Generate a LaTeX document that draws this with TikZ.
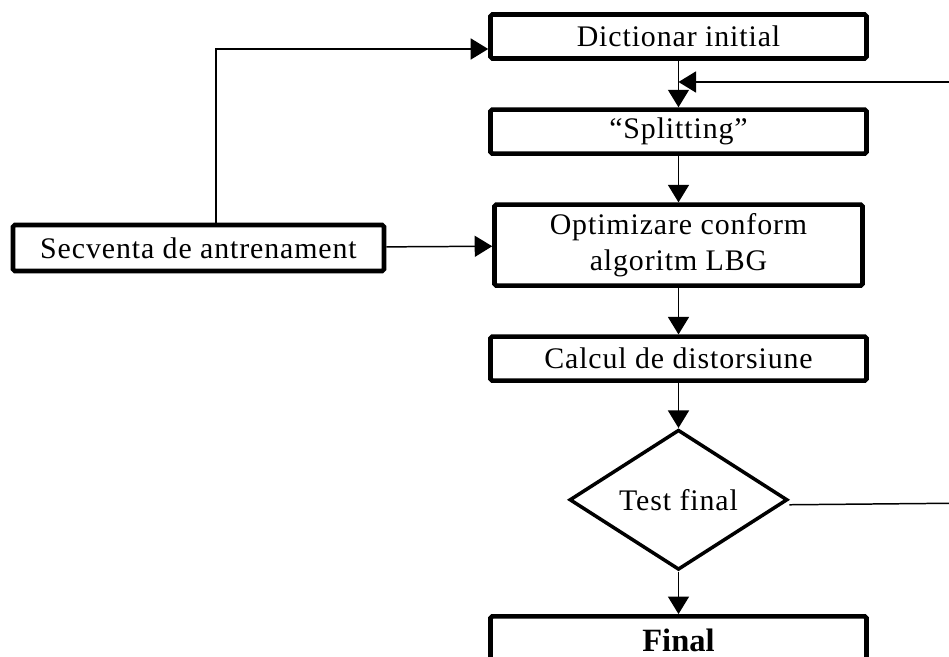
\documentclass[tikz,border=0pt]{standalone}
\usepackage{fontspec}
\setmainfont[LetterSpace=3]{Liberation Serif}
\usetikzlibrary{positioning}
\usetikzlibrary{shapes.geometric}
\usetikzlibrary{arrows.meta}

\begin{document}
\begin{tikzpicture}[node distance={0.93cm},
  box/.style = {draw, line width=2.6pt, rounded corners=1pt, minimum width=7.52cm, minimum height=0.88cm, inner sep=0pt, align=center, font=\fontsize{17}{20.5}\selectfont},
  test/.style = {draw, diamond, line width=2pt, minimum width=4.36cm, minimum height=2.56cm, inner sep=0pt, font=\fontsize{17}{20.5}\selectfont},
  flow/.style = {line width=0.85pt, -{Triangle[length=0.35cm,width=0.42cm]}}]

\useasboundingbox (0,0) rectangle (18.98,-13.14);
\clip (0,0) rectangle (18.98,-13.14);

\node[box] (dict) at (13.57,-0.73) {Dictionar initial};
\node[box] (split) [below=of dict] {“Splitting”};
\node[box, minimum width=7.36cm, minimum height=1.62cm] (opt) [below=of split] {Optimizare conform\\algoritm LBG};
\node[box] (calc) [below=of opt] {Calcul de distorsiune};
\node[test] (tst) [below=0.9cm of calc] {Test final};
\node[box, minimum height=0.98cm, font=\fontsize{18.5}{21}\selectfont\bfseries\addfontfeature{LetterSpace=0}] (fin) [below=0.85cm of tst] {Final};
\node[box, minimum width=7.42cm, minimum height=0.92cm] (sec) at (3.97,-4.96) {Secventa de antrenament};

\coordinate (fbRight) at (19.6,-10.06);
\coordinate (fbTop) at (19.6,-1.64);

\draw[flow] (dict) -- (split);
\draw[flow] (split) -- (opt);
\draw[flow] (opt) -- (calc);
\draw[flow] (calc) -- (tst);
\draw[flow] (tst) -- (fin);
\draw[flow] (sec) -- (opt);
\draw[flow] ([xshift=0.35cm]sec.north) |- ([yshift=-0.25cm]dict.west);
\draw[line width=0.85pt] ([yshift=-0.1cm]tst.east) -- (fbRight) -- (fbTop);
\draw[flow] (fbTop) -- (dict.south |- fbTop);

\end{tikzpicture}
\end{document}
